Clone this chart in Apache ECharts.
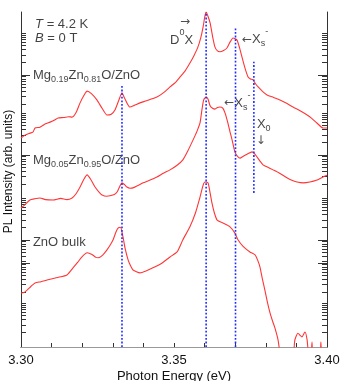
<!DOCTYPE html>
<html><head><meta charset="utf-8">
<script src="https://cdn.jsdelivr.net/npm/echarts@6/dist/echarts.min.js"></script>
<style>html,body{margin:0;padding:0;background:#fff}#c{width:341px;height:381px}</style>
</head><body><div id="c"></div>
<script>
// ---- axis definitions ----
const energyMin = 3.30, energyMax = 3.40, energyStep = 0.01;
const energyLabels = [3.30, 3.35, 3.40];
const logMin = 0, logMax = 8;               // log10 intensity (arb.), decades
const decadeTicks = [1.05, 2.01, 2.56, 3.56, 4.59, 5.59, 6.50, 7.50];
const longTicks = [2.01, 2.56, 4.59, 6.50];

// ---- spectra: [photon energy (eV), log10 PL intensity (arb.)] ----
const mg019 = [
[3.3000,4.99],[3.3013,5.06],[3.3026,5.10],[3.3039,5.13],[3.3046,5.23],[3.3062,5.25],[3.3080,5.33],[3.3095,5.37],[3.3110,5.42],[3.3121,5.47],[3.3140,5.48],[3.3155,5.50],[3.3167,5.49],[3.3180,5.60],[3.3193,5.83],[3.3205,6.00],[3.3216,6.11],[3.3230,6.05],[3.3248,5.90],[3.3265,5.70],[3.3281,5.54],[3.3295,5.56],[3.3307,5.66],[3.3320,5.90],[3.3330,6.07],[3.3338,5.95],[3.3346,5.83],[3.3356,5.73],[3.3370,5.77],[3.3389,5.83],[3.3410,5.88],[3.3444,5.97],[3.3465,6.07],[3.3487,6.21],[3.3505,6.32],[3.3520,6.45],[3.3537,6.60],[3.3552,6.78],[3.3566,6.97],[3.3578,7.16],[3.3588,7.40],[3.3595,7.64],[3.3601,7.90],[3.3605,8.00],[3.3611,7.90],[3.3618,7.74],[3.3626,7.42],[3.3634,7.16],[3.3642,7.07],[3.3650,7.05],[3.3662,7.08],[3.3673,7.14],[3.3683,7.28],[3.3693,7.38],[3.3700,7.36],[3.3706,7.33],[3.3714,7.15],[3.3722,6.93],[3.3732,6.66],[3.3742,6.45],[3.3750,6.40],[3.3758,6.38],[3.3767,6.28],[3.3775,6.21],[3.3790,6.10],[3.3804,6.02],[3.3825,5.96],[3.3846,5.90],[3.3868,5.82],[3.3889,5.73],[3.3912,5.64],[3.3935,5.54],[3.3950,5.46],[3.3967,5.35],[3.3987,5.23],[3.4000,5.23]
];
const mg005 = [
[3.3000,3.32],[3.3013,3.40],[3.3029,3.51],[3.3045,3.54],[3.3062,3.56],[3.3080,3.52],[3.3105,3.51],[3.3130,3.55],[3.3150,3.52],[3.3167,3.56],[3.3180,3.66],[3.3193,3.82],[3.3205,4.00],[3.3216,4.11],[3.3228,4.00],[3.3242,3.82],[3.3255,3.70],[3.3265,3.63],[3.3280,3.60],[3.3291,3.61],[3.3305,3.64],[3.3314,3.70],[3.3323,3.84],[3.3330,3.92],[3.3338,3.88],[3.3346,3.82],[3.3356,3.79],[3.3366,3.80],[3.3380,3.85],[3.3399,3.92],[3.3420,3.98],[3.3444,4.06],[3.3465,4.15],[3.3487,4.23],[3.3510,4.34],[3.3529,4.47],[3.3545,4.68],[3.3562,4.94],[3.3575,5.15],[3.3585,5.35],[3.3591,5.65],[3.3597,5.90],[3.3605,5.97],[3.3611,5.92],[3.3618,5.76],[3.3626,5.70],[3.3634,5.68],[3.3642,5.72],[3.3650,5.73],[3.3660,5.70],[3.3668,5.56],[3.3676,5.35],[3.3683,5.14],[3.3690,4.94],[3.3699,4.66],[3.3707,4.56],[3.3716,4.51],[3.3725,4.55],[3.3740,4.61],[3.3755,4.66],[3.3763,4.62],[3.3771,4.54],[3.3781,4.44],[3.3791,4.35],[3.3805,4.30],[3.3824,4.23],[3.3845,4.15],[3.3869,4.04],[3.3885,3.98],[3.3902,3.94],[3.3922,3.92],[3.3944,3.94],[3.3965,3.98],[3.3987,4.06],[3.4000,4.10]
];
const bulk = [
[3.3000,1.29],[3.3010,1.30],[3.3020,1.36],[3.3033,1.45],[3.3046,1.53],[3.3065,1.56],[3.3085,1.60],[3.3095,1.62],[3.3120,1.66],[3.3150,1.72],[3.3170,1.89],[3.3185,2.02],[3.3200,2.16],[3.3216,2.25],[3.3232,2.21],[3.3245,2.14],[3.3252,2.13],[3.3265,2.18],[3.3281,2.32],[3.3292,2.44],[3.3301,2.56],[3.3310,2.74],[3.3317,2.84],[3.3325,2.86],[3.3333,2.64],[3.3340,2.36],[3.3350,2.08],[3.3358,1.94],[3.3366,1.84],[3.3389,1.77],[3.3410,1.82],[3.3431,1.89],[3.3460,2.00],[3.3487,2.15],[3.3510,2.27],[3.3529,2.56],[3.3552,2.87],[3.3570,3.20],[3.3585,3.58],[3.3595,3.86],[3.3601,3.94],[3.3611,3.92],[3.3618,3.68],[3.3624,3.44],[3.3632,3.20],[3.3641,3.03],[3.3660,2.96],[3.3683,2.87],[3.3699,2.72],[3.3709,2.56],[3.3725,2.41],[3.3748,2.27],[3.3765,2.20],[3.3773,2.08],[3.3781,1.91],[3.3789,1.62],[3.3797,1.36],[3.3805,1.08],[3.3814,0.81],[3.3822,0.62],[3.3830,0.45],[3.3840,0.17],[3.3848,-0.20],[3.3870,-0.60],[3.3890,-0.20],[3.3895,0.17],[3.3905,0.33],[3.3912,0.28],[3.3918,0.24],[3.3928,0.36],[3.3935,0.17],[3.3940,-0.20],[3.3947,-0.30],[3.3951,0.12],[3.3955,-0.30],[3.3976,-0.30],[3.3980,0.12],[3.3984,-0.30],[3.4000,-0.30]
];

// ---- dotted guide lines at the exciton energies ----
const guideEnergies = [3.3330, 3.3605, 3.3701, 3.3761];
const guideTop      = [6.23, 8.00, 7.62, 6.81];
const guideBottom   = [0.00, 0.00, 0.00, 3.68];

// ---- text annotations: [energy, log intensity (label top), rich text] ----
const annotations = [
  [3.3046, 8.06, '{it|T}{m| = 4.2 K}'],
  [3.3046, 7.72, '{it|B}{m| = 0 T}'],
  [3.3039, 6.83, '{m|Mg}{sb|0.19}{m|Zn}{sb|0.81}{m|O/ZnO}'],
  [3.3039, 4.81, '{m|Mg}{sb|0.05}{m|Zn}{sb|0.95}{m|O/ZnO}'],
  [3.3039, 2.85, '{m|ZnO bulk}'],
  [3.3520, 8.11, '{ar|→}'],
  [3.3487, 7.67, '{m|D}{sp|0}{m|X}'],
  [3.3722, 7.68, '{ar|←}{m|X}{sb|s}{sp|-}'],
  [3.3664, 6.17, '{ar|←}{m|X}{sb|s}{sp|-}'],
  [3.3771, 5.67, '{m|X}{sb|0}'],
  [3.3767, 5.27, '{ar|↓}']
];

const FONT = '"Liberation Sans", Arial, Helvetica, sans-serif';
const minorTicks = decadeTicks.flatMap(d => [2,3,4,5,6,7,8,9,10].map(k => +(d - 1 + Math.log10(k)).toFixed(4)))
  .filter(v => v > 0.03 && v < 7.97);

const rich = {
  m:  {fontSize: 13, height: 13, padding: [8,0,2,0], color: '#111', fontFamily: FONT},
  it: {fontSize: 13, height: 13, padding: [8,0,2,0], color: '#111', fontFamily: FONT, fontStyle: 'italic'},
  ar: {fontSize: 12, height: 13, padding: [8,0,2,0], color: '#222', fontFamily: '"DejaVu Sans", sans-serif'},
  sb: {fontSize: 9, height: 9, padding: [14,0,0,0], color: '#111', fontFamily: FONT},
  sp: {fontSize: 9, height: 9, padding: [2,0,12,0], color: '#111', fontFamily: FONT}
};

function yAx(pos, ticks, len, showLine, name) {
  return {
    type: 'value', position: pos, min: logMin, max: logMax,
    axisLine: {show: showLine, lineStyle: {color: '#333', width: 1}},
    axisTick: {show: true, inside: true, length: len, customValues: ticks, lineStyle: {color: '#333', width: 1}},
    axisLabel: {show: false}, splitLine: {show: false},
    name: name || '', nameLocation: 'middle', nameGap: 6,
    nameTextStyle: {fontSize: 12, color: '#111', fontFamily: FONT, padding: [0,0,0,16]}
  };
}

const chart = echarts.init(document.getElementById('c'), null, {renderer: 'canvas'});
const series = [];
[mg019, mg005, bulk].forEach(d => series.push({
  type: 'line', data: d, xAxisIndex: 0, yAxisIndex: 0, showSymbol: false, symbol: 'none',
  smooth: 0.2, clip: true, silent: true,
  lineStyle: {color: '#ff3535', width: 1.1}
}));
guideEnergies.forEach((e, i) => series.push({
  type: 'line', data: [[e, guideBottom[i]], [e, guideTop[i]]], xAxisIndex: 0, yAxisIndex: 0,
  showSymbol: false, symbol: 'none', silent: true, clip: true,
  lineStyle: {color: '#1f2bff', width: 1.6, type: [1.8, 1.8]}
}));
series.push({
  type: 'scatter', data: annotations, xAxisIndex: 0, yAxisIndex: 0, symbolSize: 0, clip: false, silent: true,
  label: {show: true, position: [0, 0], align: 'left', verticalAlign: 'top',
    formatter: p => p.data[2], rich: rich, fontFamily: FONT, fontSize: 13, color: '#111'}
});

chart.setOption({
  animation: false,
  backgroundColor: '#fff',
  grid: {left: 21, right: 14, top: 12, bottom: 34, containLabel: false, outerBoundsMode: 'none'},
  xAxis: [{
    type: 'value', min: energyMin, max: energyMax, interval: energyStep,
    axisLine: {show: true, lineStyle: {color: '#333', width: 1}},
    axisTick: {show: true, inside: true, length: 4, lineStyle: {color: '#333'}},
    axisLabel: {show: true, customValues: energyLabels, formatter: v => v.toFixed(2), margin: 7,
      fontSize: 13, color: '#111', fontFamily: FONT, showMinLabel: true, showMaxLabel: true},
    splitLine: {show: false},
    name: 'Photon Energy (eV)', nameLocation: 'middle', nameGap: 23, nameMoveOverlap: false,
    nameTextStyle: {fontSize: 13, color: '#111', fontFamily: FONT}
  }, {
    type: 'value', position: 'top', min: energyMin, max: energyMax,
    axisLine: {show: true, lineStyle: {color: '#999', width: 1}},
    axisTick: {show: false}, axisLabel: {show: false}, splitLine: {show: false}
  }],
  yAxis: [
    yAx('left', longTicks, 9, true, 'PL Intensity (arb. units)'),
    yAx('left', minorTicks, 5, false),
    yAx('right', longTicks, 9, true),
    yAx('right', minorTicks, 5, false)
  ],
  series: series
});
</script></body></html>
